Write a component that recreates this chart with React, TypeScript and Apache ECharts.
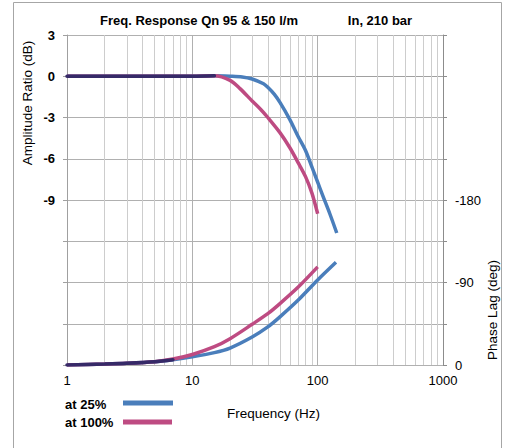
import React, { useEffect, useRef } from "react";
import * as echarts from "echarts";

const BLUE = "#4a7ebb";
const RED = "#be4b82";
const OVERLAP = "#362a68";

const xTicks = [1, 10, 100, 1000];
const minorFreqs = [2, 3, 4, 5, 6, 7, 8, 9, 20, 30, 40, 50, 60, 70, 80, 90, 200, 300, 400, 500, 600, 700, 800, 900];

const amp25Freq = [1, 2, 5, 10, 15, 20, 25, 30, 37, 40, 45, 50, 60, 70, 80, 90, 100, 110, 125, 142];
const amp25 = [0, 0, 0, 0, 0.03, 0, -0.05, -0.2, -0.55, -0.8, -1.3, -1.9, -3.15, -4.4, -5.4, -6.6, -7.7, -8.7, -10.0, -11.4];

const amp100Freq = [1, 5, 10, 15, 20, 24, 30, 35, 40, 50, 60, 70, 80, 90, 100];
const amp100 = [0, 0, 0, 0.03, -0.3, -0.9, -1.8, -2.4, -3.0, -4.1, -5.2, -6.3, -7.3, -8.5, -10.0];

const phase25Freq = [1, 2, 3, 5, 7, 10, 15, 20, 30, 40, 50, 70, 100, 140];
const phase25 = [0, -1, -1.8, -3.5, -5.8, -9, -13.5, -18.5, -30.5, -41.5, -52.5, -70.8, -92.7, -112];

const phase100Freq = [1, 2, 3, 5, 7, 10, 15, 20, 30, 40, 50, 70, 100];
const phase100 = [0, -1, -1.8, -3.6, -6.5, -11.5, -20, -28.7, -44.4, -56, -67, -85, -107];

// number of leading points where both curves coincide (drawn dark, as in the reference)
const ampOverlapCount = 4;
const phaseOverlapCount = 5;

const ampLabels = [3, 0, -3, -6, -9];
const phaseLabels = [0, -90, -180];

const zip = (xs: number[], ys: number[]) => xs.map((x, i) => [x, ys[i]]);

const FONT = "'Liberation Sans', Arial, sans-serif";

export default function App() {
  const ref = useRef<HTMLDivElement>(null);
  useEffect(() => {
    if (!ref.current) return;
    const chart = echarts.init(ref.current, null, { renderer: "svg" });
    const lineStyle = (c: string) => ({ color: c, width: 3.5 });
    chart.setOption({
      animation: false,
      textStyle: { fontFamily: FONT },
      grid: { left: 67, right: 67, top: 35, bottom: 83 },
      xAxis: {
        type: "log",
        logBase: 10,
        min: 1,
        max: 1000,
        axisLine: { show: true, lineStyle: { color: "#a0a0a0" } },
        axisTick: { show: false },
        axisLabel: { color: "#000", fontSize: 13, margin: 9, fontFamily: FONT,
          formatter: (v: number) => (xTicks.indexOf(Math.round(v)) >= 0 ? String(Math.round(v)) : "") },
        splitLine: { show: true, lineStyle: { color: "#b0b0b0", width: 1 } },
      },
      yAxis: [
        {
          type: "value",
          min: -21,
          max: 3,
          interval: 3,
          axisLine: { show: true, lineStyle: { color: "#a0a0a0" } },
          axisTick: { show: true, length: 4, lineStyle: { color: "#a0a0a0" } },
          axisLabel: { color: "#000", fontSize: 13, fontWeight: "bold", margin: 12, fontFamily: FONT,
            formatter: (v: number) => (ampLabels.indexOf(v) >= 0 ? String(v) : "") },
          splitLine: { show: true, lineStyle: { color: "#b0b0b0", width: 1 } },
        },
        {
          type: "value",
          position: "right",
          min: -360,
          max: 0,
          interval: 45,
          inverse: true,
          axisLine: { show: true, lineStyle: { color: "#8c8c8c" } },
          axisTick: { show: true, length: 4, lineStyle: { color: "#8c8c8c" } },
          axisLabel: { color: "#000", fontSize: 13, margin: 12, fontFamily: FONT,
            formatter: (v: number) => (phaseLabels.indexOf(v) >= 0 ? String(v) : "") },
          splitLine: { show: false },
        },
      ],
      series: [
        {
          type: "line",
          name: "minor",
          yAxisIndex: 0,
          data: [],
          silent: true,
          markLine: {
            z: 1,
            silent: true,
            symbol: ["none", "none"],
            label: { show: false },
            lineStyle: { color: "#cdcdcd", width: 1, type: "solid" },
            data: minorFreqs.map((f) => ({ xAxis: f })),
          },
        },
        { type: "line", name: "at 25%", yAxisIndex: 0, data: zip(amp25Freq, amp25), smooth: 0.3, showSymbol: false, lineStyle: lineStyle(BLUE), itemStyle: { color: BLUE } },
        { type: "line", name: "at 100%", yAxisIndex: 0, data: zip(amp100Freq, amp100), smooth: 0.3, showSymbol: false, lineStyle: lineStyle(RED), itemStyle: { color: RED } },
        { type: "line", name: "at 25%", yAxisIndex: 1, data: zip(phase25Freq, phase25), smooth: 0.3, showSymbol: false, lineStyle: lineStyle(BLUE), itemStyle: { color: BLUE } },
        { type: "line", name: "at 100%", yAxisIndex: 1, data: zip(phase100Freq, phase100), smooth: 0.3, showSymbol: false, lineStyle: lineStyle(RED), itemStyle: { color: RED } },
        {
          type: "line", name: "overlap", yAxisIndex: 0, silent: true,
          data: zip(amp100Freq.slice(0, ampOverlapCount), amp100.slice(0, ampOverlapCount)),
          smooth: 0.3, showSymbol: false, lineStyle: { color: OVERLAP, width: 3.5, cap: "round" },
        },
        {
          type: "line", name: "overlap", yAxisIndex: 1, silent: true,
          data: zip(phase25Freq.slice(0, phaseOverlapCount), phase25.slice(0, phaseOverlapCount)),
          smooth: 0.3, showSymbol: false, lineStyle: { color: OVERLAP, width: 3.5, cap: "round" },
        },
      ],
      graphic: [
        { type: "rect", shape: { x: 13.5, y: 2.5, width: 488, height: 500 }, style: { fill: "none", stroke: "#a6a6a6", lineWidth: 1 }, silent: true },
        { type: "text", x: 199, y: 20, style: { text: "Freq. Response Qn 95 & 150 l/m", font: `bold 13px ${FONT}`, fill: "#000", align: "center", verticalAlign: "middle" } },
        { type: "text", x: 380, y: 20, style: { text: "In, 210 bar", font: `bold 13px ${FONT}`, fill: "#000", align: "center", verticalAlign: "middle" } },
        { type: "text", x: 27, y: 103, rotation: Math.PI / 2, style: { text: "Amplitude Ratio (dB)", font: `13.5px ${FONT}`, fill: "#000", align: "center", verticalAlign: "middle" } },
        { type: "text", x: 492, y: 310, rotation: Math.PI / 2, style: { text: "Phase Lag (deg)", font: `13.5px ${FONT}`, fill: "#000", align: "center", verticalAlign: "middle" } },
        { type: "text", x: 65, y: 404, style: { text: "at 25%", font: `bold 13px ${FONT}`, fill: "#000", align: "left", verticalAlign: "middle" } },
        { type: "text", x: 65, y: 422, style: { text: "at 100%", font: `bold 13px ${FONT}`, fill: "#000", align: "left", verticalAlign: "middle" } },
        { type: "line", shape: { x1: 123, y1: 403, x2: 173, y2: 403 }, style: { stroke: BLUE, lineWidth: 5 } },
        { type: "line", shape: { x1: 123, y1: 422, x2: 172, y2: 422 }, style: { stroke: RED, lineWidth: 5 } },
        { type: "text", x: 227, y: 413, style: { text: "Frequency (Hz)", font: `13.5px ${FONT}`, fill: "#000", align: "left", verticalAlign: "middle" } },
      ],
    });
    return () => chart.dispose();
  }, []);
  return (
    <div
      ref={ref}
      style={{ position: "absolute", left: 0, top: 0, width: 510, height: 448, background: "#fff" }}
    />
  );
}
